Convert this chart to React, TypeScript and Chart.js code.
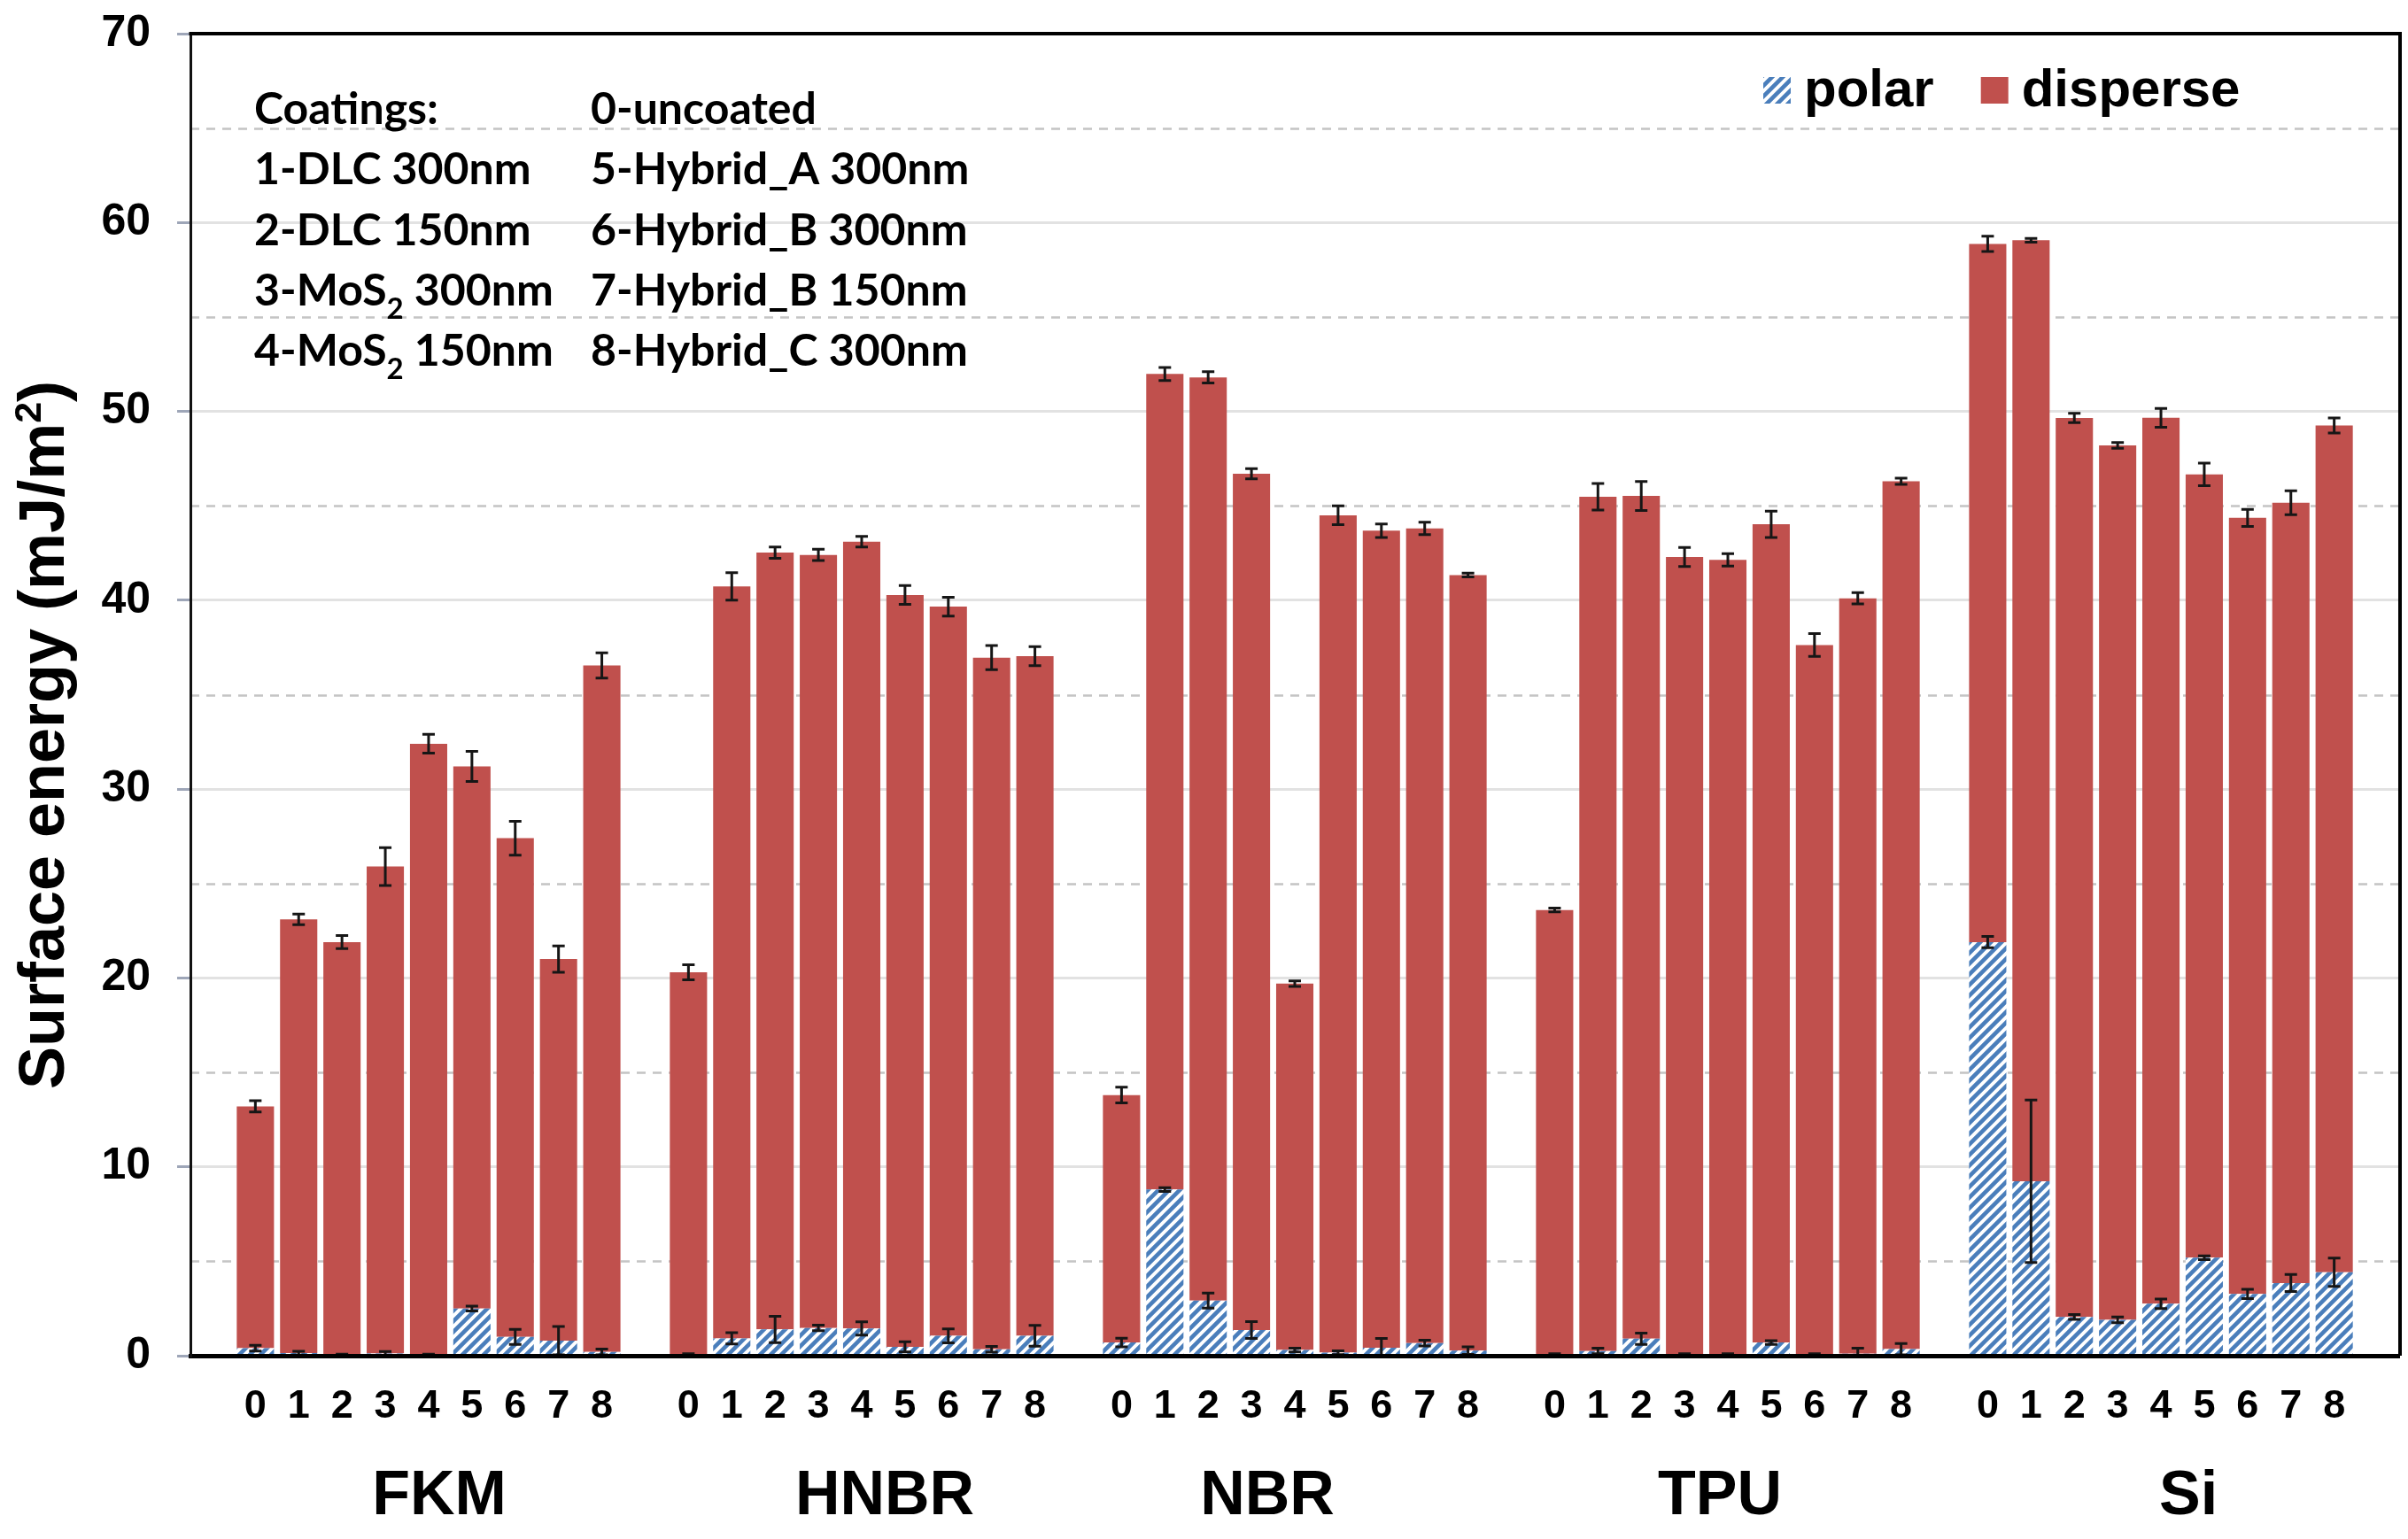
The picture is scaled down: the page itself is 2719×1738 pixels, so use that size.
import React, { useEffect, useRef } from 'react';
import { Chart, registerables } from 'chart.js';

Chart.register(...registerables);

// ---------------- data ----------------
const groupNames = ['FKM', 'HNBR', 'NBR', 'TPU', 'Si'];
const coatingCodes = ['0', '1', '2', '3', '4', '5', '6', '7', '8'];

// polar component (mJ/m²), one row per material
const polarValues = [
  [0.4, 0.14, 0.03, 0.12, 0.03, 2.5, 1.0, 0.8, 0.2],
  [0.05, 0.92, 1.39, 1.47, 1.44, 0.47, 1.05, 0.34, 1.05],
  [0.7, 8.8, 2.92, 1.36, 0.3, 0.16, 0.42, 0.67, 0.27],
  [0.05, 0.25, 0.9, 0.05, 0.05, 0.7, 0.05, 0.1, 0.35],
  [21.9, 9.24, 2.05, 1.9, 2.75, 5.19, 3.27, 3.85, 4.42],
];

// disperse component (mJ/m²)
const disperseValues = [
  [12.8, 22.96, 21.87, 25.78, 32.37, 28.7, 26.4, 20.2, 36.35],
  [20.25, 39.81, 41.13, 40.93, 41.66, 39.81, 38.61, 36.62, 35.99],
  [13.1, 43.18, 48.88, 45.34, 19.4, 44.34, 43.26, 43.13, 41.06],
  [23.55, 45.23, 44.62, 42.24, 42.09, 43.32, 37.58, 40.0, 45.95],
  [36.97, 49.82, 47.6, 46.3, 46.91, 41.47, 41.09, 41.31, 44.83],
];

// error (±) of polar component
const polarErrors = [
  [0.15, 0.1, 0.05, 0.1, 0.05, 0.13, 0.4, 0.75, 0.15],
  [0.05, 0.3, 0.7, 0.15, 0.35, 0.27, 0.37, 0.15, 0.55],
  [0.23, 0.1, 0.4, 0.44, 0.1, 0.1, 0.5, 0.15, 0.2],
  [0.05, 0.15, 0.3, 0.05, 0.05, 0.1, 0.05, 0.3, 0.3],
  [0.3, 4.3, 0.13, 0.15, 0.25, 0.1, 0.25, 0.45, 0.75],
];

// error (±) of total surface energy
const totalErrors = [
  [0.3, 0.28, 0.35, 1.0, 0.5, 0.8, 0.9, 0.7, 0.67],
  [0.4, 0.73, 0.3, 0.3, 0.28, 0.5, 0.5, 0.64, 0.5],
  [0.42, 0.35, 0.3, 0.27, 0.15, 0.5, 0.36, 0.33, 0.1],
  [0.1, 0.7, 0.77, 0.5, 0.33, 0.7, 0.6, 0.3, 0.16],
  [0.4, 0.1, 0.25, 0.15, 0.5, 0.6, 0.45, 0.63, 0.4],
];

const seriesLabels = ['polar', 'disperse'];
const yTickValues = [0, 10, 20, 30, 40, 50, 60, 70];
const yDashedValues = [5, 15, 25, 35, 45, 55, 65];
const yTitle = ['Surface energy (mJ/m', '2', ')'];

const coatingsLeft = ['Coatings:', '1-DLC 300nm', '2-DLC 150nm', '3-MoS{2} 300nm', '4-MoS{2} 150nm'];
const coatingsRight = ['0-uncoated', '5-Hybrid_A 300nm', '6-Hybrid_B 300nm', '7-Hybrid_B 150nm', '8-Hybrid_C 300nm'];

// -------------- style / layout --------------
const RED = '#c0504d';
const BLUE = '#4a7ebb';
const ARIAL = "'Liberation Sans', Arial, sans-serif";
const CALIBRI = "Lato, 'Open Sans', sans-serif";
// hand-placed nudges (px) of the group captions, as in the original figure
const groupLabelNudge = [12, 26, -31, -9, 31];

// -------------- helpers --------------
function expand<T>(rows: T[][], gap: T): T[] {
  const out: T[] = [gap];
  rows.forEach((row) => {
    out.push(...row);
    out.push(gap);
  });
  return out;
}

const labels = expand(groupNames.map(() => coatingCodes), '');

function makeHatch(): CanvasPattern | string {
  const s = 12;
  const c = document.createElement('canvas');
  c.width = s;
  c.height = s;
  const g = c.getContext('2d');
  if (!g) return BLUE;
  g.fillStyle = '#ffffff';
  g.fillRect(0, 0, s, s);
  g.strokeStyle = BLUE;
  g.lineWidth = 4.6;
  g.beginPath();
  g.moveTo(-s / 2, s / 2);
  g.lineTo(s / 2, -s / 2);
  g.moveTo(0, s);
  g.lineTo(s, 0);
  g.moveTo(s / 2, s * 1.5);
  g.lineTo(s * 1.5, s / 2);
  g.stroke();
  const p = g.createPattern(c, 'repeat');
  return p || BLUE;
}

function drawRich(ctx: CanvasRenderingContext2D, text: string, x: number, y: number, size: number) {
  const parts = text.split(/\{(\d)\}/);
  let cx = x;
  parts.forEach((part, i) => {
    if (!part) return;
    if (i % 2 === 1) {
      ctx.font = `bold ${Math.round(size * 0.66)}px ${CALIBRI}`;
      ctx.fillText(part, cx, y + size * 0.3);
    } else {
      ctx.font = `bold ${size}px ${CALIBRI}`;
      ctx.fillText(part, cx, y);
    }
    cx += ctx.measureText(part).width;
  });
}

// -------------- plugins --------------
const dashedGridPlugin = {
  id: 'dashedGrid',
  beforeDatasetsDraw(chart: any) {
    const { ctx, chartArea, scales } = chart;
    const y = scales.y;
    ctx.save();
    ctx.strokeStyle = '#c4c4c4';
    ctx.lineWidth = 2.5;
    ctx.setLineDash([10, 8]);
    yDashedValues.forEach((v) => {
      const py = Math.round(y.getPixelForValue(v)) + 0.5;
      ctx.beginPath();
      ctx.moveTo(chartArea.left, py);
      ctx.lineTo(chartArea.right, py);
      ctx.stroke();
    });
    ctx.restore();
  },
};

const errorBarPlugin = {
  id: 'errorBars',
  afterDatasetsDraw(chart: any) {
    const { ctx, scales } = chart;
    const y = scales.y;
    ctx.save();
    ctx.strokeStyle = '#161616';
    ctx.lineWidth = 3;
    chart.data.datasets.forEach((ds: any, di: number) => {
      const meta = chart.getDatasetMeta(di);
      meta.data.forEach((el: any, i: number) => {
        const err = ds.errors[i];
        if (err == null || ds.data[i] == null) return;
        let top = 0;
        for (let k = 0; k <= di; k++) top += chart.data.datasets[k].data[i] || 0;
        const x = el.x;
        const yHi = y.getPixelForValue(top + err);
        const yLo = y.getPixelForValue(Math.max(0, top - err));
        const cap = 7;
        ctx.beginPath();
        ctx.moveTo(x, yHi);
        ctx.lineTo(x, yLo);
        ctx.moveTo(x - cap, yHi);
        ctx.lineTo(x + cap, yHi);
        ctx.moveTo(x - cap, yLo);
        ctx.lineTo(x + cap, yLo);
        ctx.stroke();
      });
    });
    ctx.restore();
  },
};

const decorPlugin = {
  id: 'decor',
  afterDraw(chart: any) {
    const { ctx, chartArea, scales } = chart;
    const xs = scales.x;
    ctx.save();

    // top & right frame
    ctx.strokeStyle = '#000';
    ctx.lineWidth = 4;
    ctx.beginPath();
    ctx.moveTo(chartArea.left - 1.5, chartArea.top);
    ctx.lineTo(chartArea.right + 1, chartArea.top);
    ctx.lineTo(chartArea.right + 1, chartArea.bottom);
    ctx.stroke();

    // group labels under tick numbers
    ctx.fillStyle = '#000';
    ctx.font = `bold 70px ${ARIAL}`;
    ctx.textAlign = 'center';
    ctx.textBaseline = 'alphabetic';
    groupNames.forEach((name, gi) => {
      const centerIndex = 1 + gi * (coatingCodes.length + 1) + (coatingCodes.length - 1) / 2;
      ctx.fillText(name, xs.getPixelForValue(centerIndex) + groupLabelNudge[gi], 1710);
    });

    // y axis title (rotated, with superscript)
    const size = 72;
    ctx.textAlign = 'left';
    ctx.font = `bold ${size}px ${ARIAL}`;
    const w0 = ctx.measureText(yTitle[0]).width;
    const w2 = ctx.measureText(yTitle[2]).width;
    ctx.font = `bold ${Math.round(size * 0.6)}px ${ARIAL}`;
    const w1 = ctx.measureText(yTitle[1]).width;
    const total = w0 + w1 + w2;
    ctx.translate(72, 830);
    ctx.rotate(-Math.PI / 2);
    let tx = -total / 2;
    ctx.font = `bold ${size}px ${ARIAL}`;
    ctx.fillText(yTitle[0], tx, 0);
    tx += w0;
    ctx.font = `bold ${Math.round(size * 0.6)}px ${ARIAL}`;
    ctx.fillText(yTitle[1], tx, -size * 0.36);
    tx += w1;
    ctx.font = `bold ${size}px ${ARIAL}`;
    ctx.fillText(yTitle[2], tx, 0);
    ctx.setTransform(1, 0, 0, 1, 0, 0);

    // coatings key
    ctx.fillStyle = '#000';
    ctx.textAlign = 'left';
    ctx.textBaseline = 'alphabetic';
    const lineH = 68.3;
    coatingsLeft.forEach((t, i) => drawRich(ctx, t, 287, 140 + i * lineH, 50));
    coatingsRight.forEach((t, i) => drawRich(ctx, t, 667, 140 + i * lineH, 50));

    // legend inside plot
    let lx = 1991;
    ctx.font = `bold 60px ${ARIAL}`;
    chart.data.datasets.forEach((ds: any) => {
      ctx.fillStyle = ds.backgroundColor;
      ctx.fillRect(lx, 87, 31, 30);
      lx += 31 + 15;
      ctx.fillStyle = '#000';
      ctx.font = `bold 60px ${ARIAL}`;
      ctx.fillText(ds.label, lx, 120);
      lx += ctx.measureText(ds.label).width + 53;
    });

    ctx.restore();
  },
};

// -------------- component --------------
export default function App() {
  const ref = useRef<HTMLCanvasElement | null>(null);

  useEffect(() => {
    document.body.style.margin = '0';
    document.body.style.background = '#ffffff';
    const canvas = ref.current;
    if (!canvas) return;
    const hatch = makeHatch();

    const chart = new Chart(canvas, {
      type: 'bar',
      data: {
        labels,
        datasets: [
          {
            label: seriesLabels[0],
            data: expand(polarValues, null as any),
            backgroundColor: hatch as any,
            borderWidth: 0,
            barPercentage: 0.86,
            categoryPercentage: 1,
            errors: expand(polarErrors, null as any),
          } as any,
          {
            label: seriesLabels[1],
            data: expand(disperseValues, null as any),
            backgroundColor: RED,
            borderWidth: 0,
            barPercentage: 0.86,
            categoryPercentage: 1,
            errors: expand(totalErrors, null as any),
          } as any,
        ],
      },
      options: {
        animation: false,
        responsive: false,
        maintainAspectRatio: false,
        devicePixelRatio: 1,
        layout: { padding: { top: 38, right: 10, left: 0, bottom: 0 } },
        plugins: {
          legend: { display: false },
          tooltip: { enabled: false },
        },
        scales: {
          x: {
            type: 'category',
            stacked: true,
            grid: { display: false, drawTicks: false },
            border: { display: true, color: '#000', width: 5, z: 1 },
            ticks: {
              autoSkip: false,
              maxRotation: 0,
              minRotation: 0,
              color: '#000',
              padding: 31,
              font: { family: ARIAL, size: 45, weight: 'bold' },
            },
            afterFit: (s: any) => {
              s.height = 207;
              s.paddingLeft = 0;
              s.paddingRight = 0;
            },
          },
          y: {
            stacked: true,
            min: 0,
            max: 70,
            afterBuildTicks: (s: any) => {
              s.ticks = yTickValues.map((v) => ({ value: v }));
            },
            ticks: {
              color: '#000',
              padding: 30,
              font: { family: ARIAL, size: 50, weight: 'bold' },
            },
            grid: {
              color: '#e2e2e2',
              lineWidth: 3,
              tickLength: 15,
              tickColor: '#9ea6b8',
              tickWidth: 3,
            },
            border: { display: true, color: '#111', width: 3, z: 1 },
            afterFit: (s: any) => {
              s.width = 215;
              s.paddingTop = 0;
              s.paddingBottom = 0;
            },
          },
        },
      } as any,
      plugins: [dashedGridPlugin, errorBarPlugin, decorPlugin],
    });

    return () => {
      chart.destroy();
    };
  }, []);

  return (
    <div style={{ width: 2719, height: 1738, overflow: 'hidden', background: '#fff' }}>
      <canvas ref={ref} width={2719} height={1738} style={{ display: 'block', width: 2719, height: 1738 }} />
    </div>
  );
}
